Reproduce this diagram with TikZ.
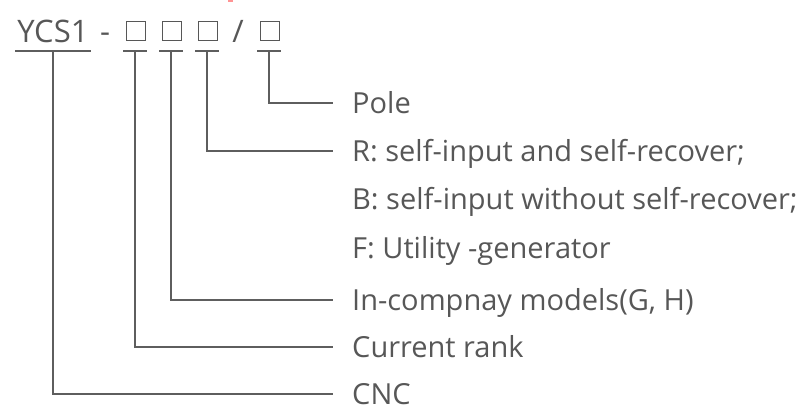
\documentclass[tikz,border=0pt]{standalone}
\usepackage{fontspec}
\setmainfont{Open Sans}
\definecolor{txt}{HTML}{575757}
\definecolor{ln}{HTML}{5E5E5E}
\begin{document}
\begin{tikzpicture}[x=1pt,y=-1pt,
  lbl/.style={anchor=west,inner sep=0pt,text height=23pt,text depth=3pt,text=txt,font=\fontsize{29}{29}\selectfont},
  code/.style={inner sep=0pt,text=txt,font=\fontsize{31}{31}\selectfont},
  box/.style={draw=txt,line width=1.6pt,minimum width=19pt,minimum height=19pt,inner sep=0pt},
  bar/.style={draw=ln,line width=2.2pt},
  conn/.style={draw=ln,line width=2pt}]
\useasboundingbox (0,0) rectangle (806,410);
% faint red fragment at top
\fill[red!70!white,opacity=0.6] (228,0) rectangle (233,2);
% code line
\node[code,anchor=base] (ycs) at (53,42) {YCS1};
\node[code,anchor=base] (dash) at (105,42) {-};
\node[box] (s1) at (136,31) {};
\node[box] (s2) at (172,31) {};
\node[box] (s3) at (208,31) {};
\node[code,anchor=base] (sl) at (238,42) {/};
\node[box] (s4) at (270,31) {};
% underline bars
\coordinate (b0) at (53,51);
\coordinate (b1) at (135,51);
\coordinate (b2) at (171,51);
\coordinate (b3) at (207,51);
\coordinate (b4) at (269,51);
\draw[bar] (15,51) -- (91,51);
\draw[bar] (123,51) -- (147,51);
\draw[bar] (159,51) -- (183,51);
\draw[bar] (195,51) -- (219,51);
\draw[bar] (257,51) -- (281,51);
% labels
\node[lbl] (pole) at (352,103) {Pole};
\node[lbl] (r) at (352,151) {R: self-input and self-recover;};
\node[lbl] (b) at (352,199) {B: self-input without self-recover;};
\node[lbl] (f) at (352,248) {F: Utility -generator};
\node[lbl] (in) at (352,300) {In-compnay models(G, H)};
\node[lbl] (cur) at (352,347) {Current rank};
\node[lbl] (cnc) at (352,394) {CNC};
% connectors
\draw[conn] (b4) |- ([xshift=-19pt]pole.west);
\draw[conn] (b3) |- ([xshift=-19pt]r.west);
\draw[conn] (b2) |- ([xshift=-19pt]in.west);
\draw[conn] (b1) |- ([xshift=-19pt]cur.west);
\draw[conn] (b0) |- ([xshift=-19pt]cnc.west);
\end{tikzpicture}
\end{document}
